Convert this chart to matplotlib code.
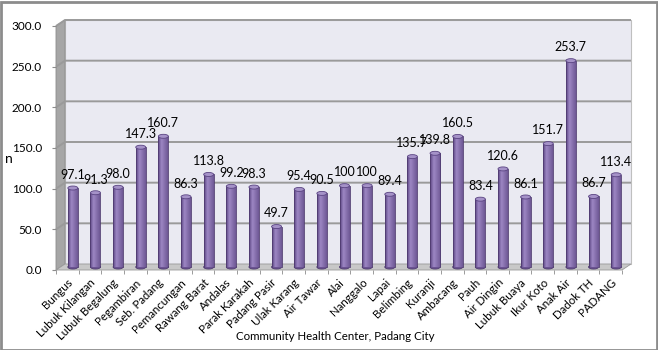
import numpy as np
import matplotlib
matplotlib.use('Agg')
import matplotlib.pyplot as plt
from matplotlib.patches import Rectangle, Polygon, Ellipse
from matplotlib.transforms import ScaledTranslation

plt.rcParams['font.family'] = ['Lato', 'DejaVu Sans']

# Data
centers = ["Bungus", "Lubuk Kilangan", "Lubuk Begalung", "Pegambiran", "Seb. Padang",
           "Pemancungan", "Rawang Barat", "Andalas", "Parak Karakah", "Padang Pasir",
           "Ulak Karang", "Air Tawar", "Alai", "Nanggalo", "Lapai", "Belimbing",
           "Kuranji", "Ambacang", "Pauh", "Air Dingin", "Lubuk Buaya", "Ikur Koto",
           "Anak Air", "Dadok TH", "PADANG"]
values = [97.1, 91.3, 98.0, 147.3, 160.7, 86.3, 113.8, 99.2, 98.3, 49.7,
          95.4, 90.5, 100, 100, 89.4, 135.7, 139.8, 160.5, 83.4, 120.6,
          86.1, 151.7, 253.7, 86.7, 113.4]
y_ticks = [0, 50, 100, 150, 200, 250, 300]

W, H, DPI = 658, 350, 100
fig = plt.figure(figsize=(W / DPI, H / DPI), dpi=DPI)
fig.patch.set_facecolor('white')

# front plane of the 3D box, in pixels
left, right, bottom, top = 56, 622, 270, 26
ax = fig.add_axes([left / W, 1 - bottom / H, (right - left) / W, (bottom - top) / H])
n = len(centers)
xmin, xmax = -0.5, n - 0.5
ymax = 300
ax.set_xlim(xmin, xmax)
ax.set_ylim(0, ymax)
ax.set_facecolor('none')
for s in ax.spines.values():
    s.set_visible(False)

# depth of the box in data units (9 px right, 6 px up)
px_x = (right - left) / (xmax - xmin)
px_y = (bottom - top) / ymax
ddx, ddy = 9 / px_x, 6 / px_y

# back wall, side wall and floor
ax.add_patch(Rectangle((xmin + ddx, ddy), xmax - xmin, ymax, facecolor='#eaeaf2',
                       edgecolor='#bfbfbf', lw=0.8, zorder=0, clip_on=False))
ax.add_patch(Polygon([(xmin, 0), (xmin, ymax), (xmin + ddx, ymax + ddy), (xmin + ddx, ddy)],
                     closed=True, facecolor='#a6a6a6', edgecolor='#8c8c8c', lw=0.6,
                     zorder=0.5, clip_on=False))
ax.add_patch(Polygon([(xmin, 0), (xmax, 0), (xmax + ddx, ddy), (xmin + ddx, ddy)],
                     closed=True, facecolor='#c8c8c8', edgecolor='#9a9a9a', lw=0.6,
                     zorder=0.5, clip_on=False))
for t in y_ticks[1:]:
    ax.plot([xmin, xmin + ddx, xmax + ddx], [t, t + ddy, t + ddy], color='#9a9a9a',
            lw=1.4, zorder=0.6, clip_on=False, solid_capstyle='butt')

# cylinders sit half way into the depth
bar_tr = ax.transData + ScaledTranslation(5.5 / DPI, 3 / DPI, fig.dpi_scale_trans)
bw = 10 / px_x
eh = 4 / px_y
grad = np.linspace(0, 1, 64)
shade = np.interp(grad, [0, 0.35, 1], [0.0, 1.0, 0.3])[None, :]
cmap = matplotlib.colors.LinearSegmentedColormap.from_list(
    'cyl', ['#5a4380', '#9d87c4'])
for i, v in enumerate(values):
    ax.add_patch(Ellipse((i, 0), bw, eh, facecolor='#6b5392', edgecolor='#4f3b70',
                         lw=0.6, transform=bar_tr, zorder=2))
    body = Rectangle((i - bw / 2, 0), bw, v, facecolor='#7e64a6', edgecolor='none',
                     transform=bar_tr, zorder=3)
    ax.add_patch(body)
    im = ax.imshow(shade, cmap=cmap, extent=(i - bw / 2, i + bw / 2, 0, v),
                   aspect='auto', transform=bar_tr, zorder=3.1, interpolation='bilinear')
    im.set_clip_path(body)
    ax.plot([i - bw / 2, i - bw / 2], [0, v], color='#4f3b70', lw=0.6,
            transform=bar_tr, zorder=3.2)
    ax.plot([i + bw / 2, i + bw / 2], [0, v], color='#4f3b70', lw=0.6,
            transform=bar_tr, zorder=3.2)
    ax.add_patch(Ellipse((i, v), bw, eh, facecolor='#a592c8', edgecolor='#5a4482',
                         lw=0.6, transform=bar_tr, zorder=4))
    label = str(v) if isinstance(v, int) else f"{v:.1f}"
    ax.annotate(label, (i, v), xycoords=bar_tr, xytext=(0, 9.5),
                textcoords='offset points', ha='center', va='center',
                fontsize=9, color='black', zorder=5)

ax.set_ylim(0, ymax)
ax.set_xlim(xmin, xmax)
ax.set_yticks(y_ticks)
ax.set_yticklabels([f"{t:.1f}" for t in y_ticks], fontsize=8.5)
ax.tick_params(axis='y', length=3, color='#8c8c8c', pad=7)
ax.set_xticks(range(n))
ax.set_xticklabels(centers, rotation=45, ha='right', rotation_mode='anchor', fontsize=8.3)
ax.tick_params(axis='x', length=0, pad=5)
ax.set_xticks(np.arange(xmin, xmax + 0.01, 1), minor=True)
ax.tick_params(axis='x', which='minor', length=3, color='#8c8c8c')

fig.text(9 / W, 1 - 159 / H, 'n', fontsize=10, ha='center', va='center')
fig.text(335 / W, 1 - 337 / H, 'Community Health Center, Padang City', fontsize=8.3,
         ha='center', va='center')

fig.add_artist(Rectangle((0.5 / W, 0.5 / H), 1 - 2 / W, 1 - 2 / H,
                         transform=fig.transFigure, fill=False,
                         edgecolor='#8c8c8c', lw=2))

fig.savefig('out.png', dpi=DPI, facecolor='white')
